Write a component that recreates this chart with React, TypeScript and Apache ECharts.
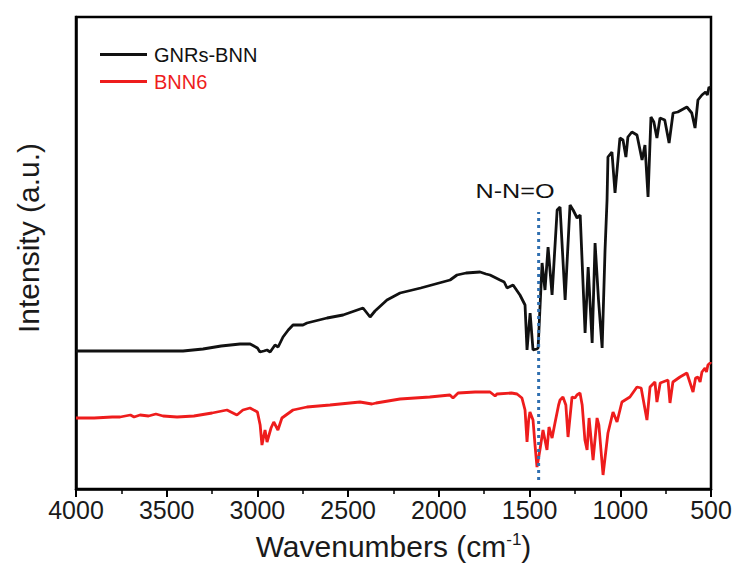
import React, { useEffect, useRef } from "react";
import * as echarts from "echarts";

// Wavenumbers (cm-1) and intensities (a.u.)
const gnrsWn = [4000, 3800, 3600, 3410, 3300, 3200, 3096, 3040, 3000, 2986, 2965, 2947, 2930, 2903, 2886, 2859, 2830, 2804, 2749, 2727, 2616, 2528, 2418, 2379, 2352, 2286, 2214, 2100, 1938, 1900, 1850, 1773, 1740, 1718, 1663, 1640, 1624, 1591, 1553, 1525, 1514, 1505, 1497, 1481, 1460, 1453, 1431, 1415, 1398, 1376, 1348, 1332, 1304, 1277, 1260, 1238, 1221, 1194, 1177, 1155, 1139, 1120, 1100, 1084, 1073, 1068, 1046, 1029, 1002, 985, 969, 958, 936, 908, 880, 864, 847, 831, 815, 798, 781, 755, 731, 709, 683, 633, 606, 588, 572, 550, 530, 520, 511, 505];
const gnrsInt = [138, 138, 138, 138, 140, 143, 145, 145, 141, 137, 138, 139, 137, 144, 142, 152, 159, 164, 164, 166, 171, 174, 181, 172, 178, 189, 196, 201, 209, 214, 216, 217, 215, 214, 209, 207, 201, 204, 194, 184, 139, 159, 176, 139, 140, 141, 226, 199, 242, 194, 279, 282, 189, 284, 279, 271, 274, 156, 222, 146, 246, 189, 141, 239, 289, 332, 337, 296, 351, 349, 332, 352, 357, 354, 329, 344, 292, 372, 367, 351, 371, 369, 346, 376, 377, 382, 376, 361, 389, 394, 397, 394, 402, 401];

const bnn6Wn = [4000, 3900, 3800, 3757, 3700, 3680, 3647, 3600, 3560, 3520, 3443, 3350, 3250, 3168, 3113, 3080, 3041, 3000, 2985, 2975, 2958, 2947, 2925, 2910, 2887, 2865, 2804, 2727, 2600, 2435, 2369, 2346, 2214, 2050, 1939, 1922, 1894, 1800, 1718, 1690, 1680, 1600, 1569, 1542, 1525, 1514, 1505, 1498, 1481, 1470, 1459, 1443, 1426, 1415, 1404, 1393, 1376, 1360, 1340, 1332, 1316, 1300, 1288, 1266, 1250, 1239, 1222, 1210, 1195, 1183, 1172, 1150, 1128, 1118, 1095, 1068, 1040, 1018, 991, 947, 908, 885, 853, 836, 809, 798, 780, 737, 726, 710, 671, 633, 599, 585, 572, 560, 550, 533, 525, 517, 505, 500];
const bnn6Int = [71, 71, 72, 72, 74, 72, 74, 73, 75, 73, 72, 73, 76, 79, 74, 79, 81, 77, 64, 44, 59, 47, 61, 67, 59, 71, 79, 82, 84, 87, 85, 86, 90, 92, 94, 91, 96, 97, 97, 93, 95, 96, 95, 91, 79, 47, 69, 77, 69, 44, 22, 39, 59, 49, 39, 62, 51, 66, 84, 89, 92, 84, 52, 92, 91, 94, 96, 84, 49, 39, 71, 29, 71, 64, 14, 56, 77, 67, 87, 92, 102, 101, 69, 102, 107, 87, 106, 109, 86, 107, 112, 116, 97, 111, 112, 107, 117, 121, 117, 124, 126, 125];

const markerWn = [1450, 1450];
const markerInt = [9, 277];

const xTicks = [500, 4000, 500]; // min, max, interval
const seriesNames = ["GNRs-BNN", "BNN6"];
const seriesColors = ["#111111", "#ee1c1c"];

const FONT = "'Liberation Sans', Arial, sans-serif";

export default function App() {
  const ref = useRef<HTMLDivElement>(null);
  useEffect(() => {
    if (!ref.current) return;
    const chart = echarts.init(ref.current, undefined, { renderer: "svg" });
    const zip = (a: number[], b: number[]) => a.map((v, i) => [v, b[i]]);
    chart.setOption({
      animation: false,
      backgroundColor: "#ffffff",
      textStyle: { fontFamily: FONT },
      grid: {
        left: 76,
        right: 28,
        top: 17,
        bottom: 83,
        show: true,
        borderColor: "#000",
        borderWidth: 2.5,
      },
      legend: {
        left: 95,
        top: 39,
        orient: "vertical",
        icon: "rect",
        itemWidth: 47,
        itemHeight: 3,
        itemGap: 6,
        textStyle: { fontSize: 20, lineHeight: 21, fontFamily: FONT, padding: [0, 0, 0, 2] },
        data: [
          { name: seriesNames[0], textStyle: { color: seriesColors[0] } },
          { name: seriesNames[1], textStyle: { color: seriesColors[1] } },
        ],
      },
      xAxis: {
        type: "value",
        inverse: true,
        min: xTicks[0],
        max: xTicks[1],
        interval: xTicks[2],
        axisLine: { show: true, lineStyle: { color: "#000", width: 2.5 } },
        axisTick: { show: true, inside: false, length: 8, lineStyle: { color: "#000", width: 2 } },
        minorTick: { show: true, splitNumber: 2, length: 5, lineStyle: { color: "#000", width: 1.5 } },
        splitLine: { show: false },
        axisLabel: {
          fontSize: 25,
          color: "#1a1a1a",
          margin: 8,
          fontFamily: FONT,
          formatter: (v: number) => String(v),
        },
        name: "Wavenumbers (cm{sup|-1})",
        nameLocation: "middle",
        nameGap: 42,
        nameTextStyle: {
          fontSize: 30,
          color: "#1a1a1a",
          fontFamily: FONT,
          rich: {
            sup: { fontSize: 17, color: "#1a1a1a", fontFamily: FONT, padding: [0, 0, 14, 0] },
          },
        },
      },
      yAxis: {
        type: "value",
        min: 0,
        max: 472,
        axisLine: { show: true, lineStyle: { color: "#000", width: 2.5 } },
        axisTick: { show: false },
        axisLabel: { show: false },
        splitLine: { show: false },
      },
      graphic: [
        {
          type: "text",
          x: 28,
          y: 238,
          rotation: Math.PI / 2,
          style: {
            text: "Intensity (a.u.)",
            fontSize: 30,
            fontFamily: FONT,
            fill: "#1a1a1a",
            align: "center",
            verticalAlign: "middle",
          },
        },
        {
          type: "text",
          x: 515,
          y: 191,
          scaleX: 1.2,
          style: {
            text: "N-N=O",
            fontSize: 21,
            fontFamily: FONT,
            fill: "#111",
            align: "center",
            verticalAlign: "middle",
          },
        },
      ],
      series: [
        {
          name: seriesNames[0],
          type: "line",
          data: zip(gnrsWn, gnrsInt),
          showSymbol: false,
          symbol: "none",
          color: seriesColors[0],
          lineStyle: { color: seriesColors[0], width: 2.8 },
          z: 3,
        },
        {
          name: seriesNames[1],
          type: "line",
          data: zip(bnn6Wn, bnn6Int),
          showSymbol: false,
          symbol: "none",
          color: seriesColors[1],
          lineStyle: { color: seriesColors[1], width: 2.8 },
          z: 3,
        },
        {
          name: "N-N=O",
          type: "line",
          data: zip(markerWn, markerInt),
          showSymbol: false,
          symbol: "none",
          lineStyle: { color: "#2f6fb0", width: 3, type: [3, 4] },
          z: 4,
        },
      ],
    });
    return () => chart.dispose();
  }, []);
  return <div ref={ref} style={{ width: 739, height: 572, position: "absolute", left: 0, top: 0 }} />;
}
